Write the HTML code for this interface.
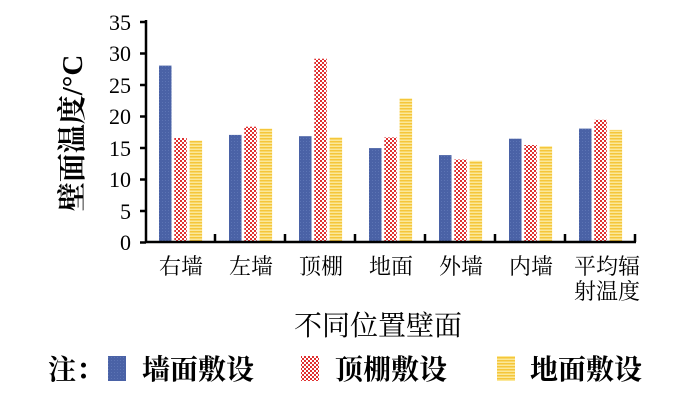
<!DOCTYPE html>
<html><head><meta charset="utf-8"><style>body{margin:0;background:#fff}svg{display:block}</style></head><body>
<svg width="700" height="400" xmlns="http://www.w3.org/2000/svg" font-family="'Liberation Serif','Noto Serif CJK SC',serif">
<defs>
<pattern id="b" width="3" height="3" patternUnits="userSpaceOnUse"><rect width="3" height="3" fill="#4a62a6"/><rect width="1" height="1" fill="#5c74b4"/></pattern>
<pattern id="r" width="4" height="4" patternUnits="userSpaceOnUse"><rect width="4" height="4" fill="#fff"/><rect width="2" height="2" fill="#e03030"/><rect x="2" y="2" width="2" height="2" fill="#e03030"/></pattern>
<pattern id="y" width="4" height="3" patternUnits="userSpaceOnUse"><rect width="4" height="3" fill="#fbe89a"/><rect width="4" height="1.5" fill="#f5c63a"/></pattern>
</defs>
<g fill="url(#b)">
<rect x="159" y="65.6" width="12.5" height="176.4"/>
<rect x="229" y="134.9" width="12.5" height="107.1"/>
<rect x="299" y="136.2" width="12.5" height="105.8"/>
<rect x="369" y="148.1" width="12.5" height="93.9"/>
<rect x="439" y="155.1" width="12.5" height="86.9"/>
<rect x="509" y="138.7" width="12.5" height="103.3"/>
<rect x="579" y="128.6" width="12.5" height="113.4"/>
</g>
<g fill="url(#r)">
<rect x="174.3" y="138" width="12.5" height="104"/>
<rect x="244.3" y="126.7" width="12.5" height="115.3"/>
<rect x="314.3" y="58.7" width="12.5" height="183.3"/>
<rect x="384.3" y="137.4" width="12.5" height="104.6"/>
<rect x="454.3" y="159.5" width="12.5" height="82.5"/>
<rect x="524.3" y="145" width="12.5" height="97"/>
<rect x="594.3" y="119.8" width="12.5" height="122.2"/>
</g>
<g fill="url(#y)">
<rect x="189.6" y="140.6" width="12.5" height="101.4"/>
<rect x="259.6" y="128.6" width="12.5" height="113.4"/>
<rect x="329.6" y="137.4" width="12.5" height="104.6"/>
<rect x="399.6" y="98.4" width="12.5" height="143.6"/>
<rect x="469.6" y="160.7" width="12.5" height="81.3"/>
<rect x="539.6" y="146.2" width="12.5" height="95.8"/>
<rect x="609.6" y="129.9" width="12.5" height="112.1"/>
</g>
<g stroke="#000" stroke-width="2.5" fill="none">
<line x1="146" y1="20" x2="146" y2="243"/><line x1="145" y1="242" x2="636" y2="242"/>
<path d="M140 242.5H146M140 211H146M140 179.5H146M140 148H146M140 116.5H146M140 85H146M140 53.5H146M140 22H146"/>
<path d="M215 242V234M285 242V234M355 242V234M425 242V234M495 242V234M565 242V234M635 242V234"/>
</g>
<g font-size="22" text-anchor="end" font-family="'Liberation Serif',serif">
<text x="131" y="250">0</text><text x="131" y="219">5</text><text x="131" y="187">10</text><text x="131" y="156">15</text><text x="131" y="124">20</text><text x="131" y="93">25</text><text x="131" y="61">30</text><text x="131" y="30">35</text>
</g>
<g font-size="22" text-anchor="middle">
<text x="181" y="274">右墙</text><text x="251" y="274">左墙</text><text x="321" y="274">顶棚</text><text x="391" y="274">地面</text><text x="461" y="274">外墙</text><text x="531" y="274">内墙</text><text x="607" y="274">平均辐</text><text x="607" y="299">射温度</text>
</g>
<text x="378" y="335" font-size="28" text-anchor="middle">不同位置壁面</text>
<text transform="translate(82,133) rotate(-90)" font-size="29" font-weight="bold" text-anchor="middle">壁面温度/°C</text>
<g font-size="28" font-weight="bold">
<text x="48" y="379">注：</text>
<rect x="108" y="356" width="18" height="25" fill="url(#b)"/><text x="142" y="379">墙面敷设</text>
<rect x="301" y="356" width="18" height="25" fill="url(#r)"/><text x="335" y="379">顶棚敷设</text>
<rect x="497" y="356" width="18" height="25" fill="url(#y)"/><text x="530" y="379">地面敷设</text>
</g>
</svg>
</body></html>
